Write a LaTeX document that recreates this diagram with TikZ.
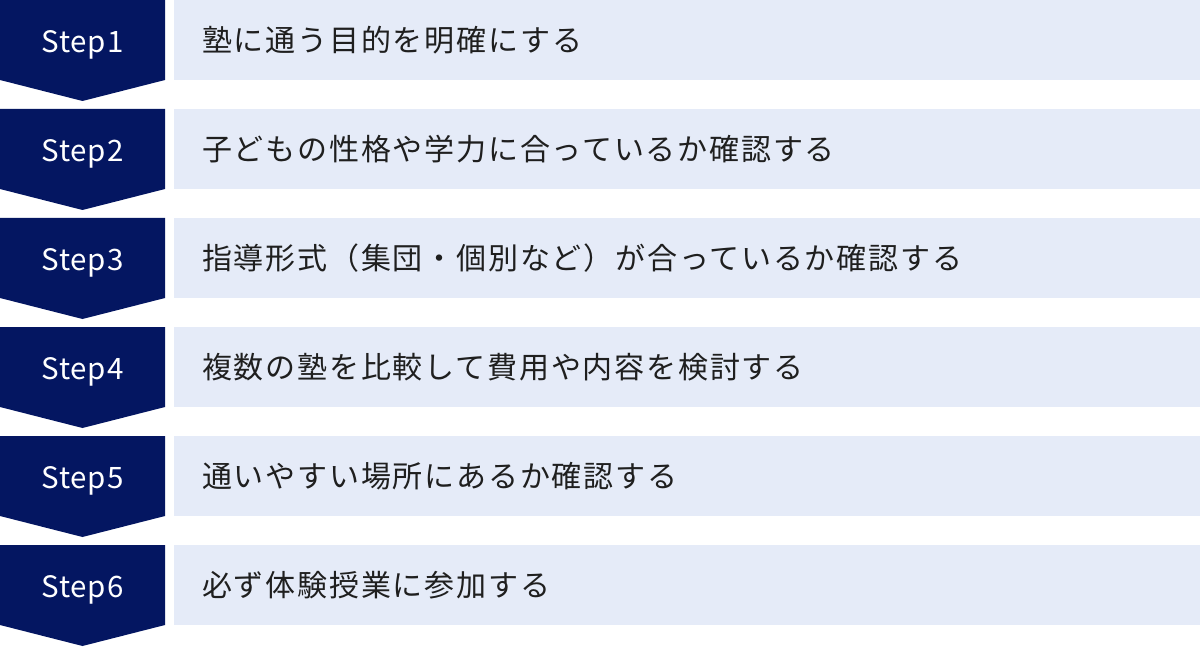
\documentclass[tikz,border=0pt]{standalone}
\usepackage{fontspec}
\setmainfont{Noto Sans}
\newfontfamily\jpfont[LetterSpace=6]{Noto Sans CJK JP}
\newfontfamily\tagfont[LetterSpace=3]{Noto Sans CJK JP}
\definecolor{stepnavy}{HTML}{041661}
\definecolor{rowpale}{HTML}{E5EBF8}
\tikzset{
  steptag/.style={anchor=base, text=white, inner sep=0pt, font=\tagfont\fontsize{29.5}{35}\selectfont},
  rowtext/.style={anchor=west, inner sep=0pt, text=black!88, font=\jpfont\fontsize{30}{36}\selectfont}
}

\begin{document}
\begin{tikzpicture}[x=1pt, y=1pt]
        \useasboundingbox (0,0) rectangle (1200,-647);
        \begin{scope}[shift={(0, 0)}]
            \fill[stepnavy] (0,0)--(165,0)--(165,-80)--(82.5,-101)--(0,-80)--cycle;
            \fill[rowpale] (174,0) rectangle (1200,-80);
            \node[steptag] (step1) at (82.5,-52.5) {Step1};
            \node[rowtext] (task1) at (202,-40) {塾に通う目的を明確にする};
          \end{scope}
        \begin{scope}[shift={(0, -109)}]
            \fill[stepnavy] (0,0)--(165,0)--(165,-80)--(82.5,-101)--(0,-80)--cycle;
            \fill[rowpale] (174,0) rectangle (1200,-80);
            \node[steptag] (step2) at (82.5,-52.5) {Step2};
            \node[rowtext] (task2) at (202,-40) {子どもの性格や学力に合っているか確認する};
          \end{scope}
        \begin{scope}[shift={(0, -218)}]
            \fill[stepnavy] (0,0)--(165,0)--(165,-80)--(82.5,-101)--(0,-80)--cycle;
            \fill[rowpale] (174,0) rectangle (1200,-80);
            \node[steptag] (step3) at (82.5,-52.5) {Step3};
            \node[rowtext] (task3) at (202,-40) {指導形式（集団・個別など）が合っているか確認する};
          \end{scope}
        \begin{scope}[shift={(0, -327)}]
            \fill[stepnavy] (0,0)--(165,0)--(165,-80)--(82.5,-101)--(0,-80)--cycle;
            \fill[rowpale] (174,0) rectangle (1200,-80);
            \node[steptag] (step4) at (82.5,-52.5) {Step4};
            \node[rowtext] (task4) at (202,-40) {複数の塾を比較して費用や内容を検討する};
          \end{scope}
        \begin{scope}[shift={(0, -436)}]
            \fill[stepnavy] (0,0)--(165,0)--(165,-80)--(82.5,-101)--(0,-80)--cycle;
            \fill[rowpale] (174,0) rectangle (1200,-80);
            \node[steptag] (step5) at (82.5,-52.5) {Step5};
            \node[rowtext] (task5) at (202,-40) {通いやすい場所にあるか確認する};
          \end{scope}
        \begin{scope}[shift={(0, -545)}]
            \fill[stepnavy] (0,0)--(165,0)--(165,-80)--(82.5,-101)--(0,-80)--cycle;
            \fill[rowpale] (174,0) rectangle (1200,-80);
            \node[steptag] (step6) at (82.5,-52.5) {Step6};
            \node[rowtext] (task6) at (202,-40) {必ず体験授業に参加する};
          \end{scope}
        \end{tikzpicture}
\end{document}
